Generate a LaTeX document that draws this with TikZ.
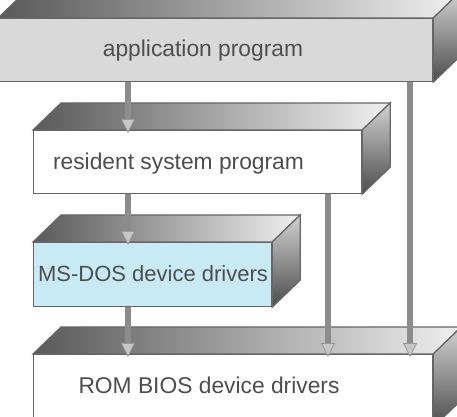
\documentclass[tikz,border=0pt]{standalone}
\usepackage{fontspec}
\setmainfont{Liberation Sans}
\usetikzlibrary{arrows.meta}
\definecolor{dosblue}{RGB}{200,234,245}
\definecolor{txtgray}{RGB}{78,78,78}

\begin{document}
\begin{tikzpicture}[x=0.5pt, y=-0.5pt,
    front/.style={draw=black!60, line width=0.6pt, anchor=north west, inner sep=0pt},
    lbl/.style={anchor=base, inner sep=0pt, text=txtgray, font=\fontsize{11.4}{13}\selectfont},
    flow/.style={line width=3pt, draw=black!45, shorten >=-1.5pt,
        -{Triangle[width=7pt,length=7pt,fill=black!22,color=black!40,line width=0.4pt]}}]

    % Canvas
    \useasboundingbox (0,0) rectangle (457,417);
    \clip (0,0) rectangle (457,417);

    % Front faces of the layers
    \node[front, fill=black!15, minimum width=217pt, minimum height=31.5pt] (app) at (-2,18) {};
    \node[front, fill=white, minimum width=164pt, minimum height=31.5pt] (res) at (33,130) {};
    \node[front, fill=dosblue, minimum width=119pt, minimum height=32pt] (dos) at (33,242) {};
    \node[front, fill=white, minimum width=199.5pt, minimum height=36pt] (rom) at (33,354) {};

    % Top and side faces
    \foreach \b in {app,res,dos,rom} {
        \shade[left color=black!65, right color=black!6, draw=black!60, line width=0.6pt]
            (\b.north west) -- ++(28,-27) -- ([shift={(28,-27)}]\b.north east) -- (\b.north east) -- cycle;
        \shade[top color=black!18, bottom color=black!70, draw=black!60, line width=0.6pt]
            (\b.north east) -- ++(28,-27) -- ([shift={(28,-27)}]\b.south east) -- (\b.south east) -- cycle;
    }

    % Calls between layers
    \coordinate (c1) at (128,0);
    \coordinate (c2) at (328,0);
    \coordinate (c3) at (410,0);
    \draw[flow] (app.south -| c1) -- (res.north -| c1);
    \draw[flow] (res.south -| c1) -- (dos.north -| c1);
    \draw[flow] (dos.south -| c1) -- (rom.north -| c1);
    \draw[flow] (res.south -| c2) -- (rom.north -| c2);
    \draw[flow] (app.south -| c3) -- (rom.north -| c3);

    % Layer names
    \node[lbl] (appt) at (203,57) {application program};
    \node[lbl] (rest) at (178.5,170) {resident system program};
    \node[lbl, font=\fontsize{11}{13}\selectfont] (dost) at (153,282) {MS-DOS device drivers};
    \node[lbl] (romt) at (209,394) {ROM BIOS device drivers};
\end{tikzpicture}
\end{document}
